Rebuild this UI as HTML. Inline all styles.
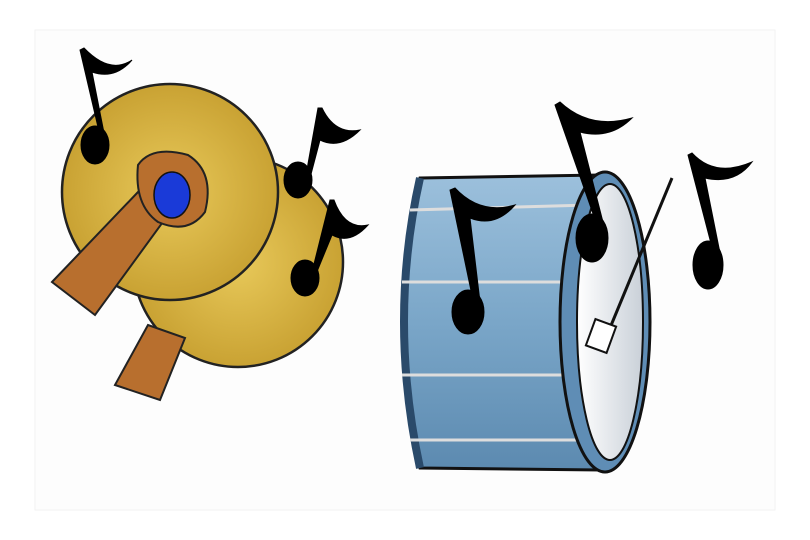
<!DOCTYPE html>
<html><head><meta charset="utf-8"><style>
html,body{margin:0;padding:0;background:#fff;}
svg{display:block;}
</style></head><body>
<svg width="810" height="540" viewBox="0 0 810 540" xmlns="http://www.w3.org/2000/svg">
<defs>
<radialGradient id="gold" cx="0.5" cy="0.5" r="0.5">
<stop offset="0" stop-color="#e8c95a"/><stop offset="1" stop-color="#c9a233"/></radialGradient>
<linearGradient id="drum" x1="0" y1="0" x2="0" y2="1">
<stop offset="0" stop-color="#9cc0dc"/><stop offset="0.5" stop-color="#7aa6c8"/><stop offset="1" stop-color="#5c8ab0"/></linearGradient>
<linearGradient id="head" x1="0" y1="0" x2="1" y2="0">
<stop offset="0" stop-color="#ffffff"/><stop offset="1" stop-color="#c9d0d8"/></linearGradient>
</defs>
<rect x="35" y="30" width="740" height="480" fill="#fdfdfd" stroke="#f2f2f2"/>

<g>
<circle cx="238" cy="262" r="105" fill="url(#gold)" stroke="#222" stroke-width="2.5"/>
<path d="M115 385 L148 325 L185 338 L160 400 Z" fill="#b86f2e" stroke="#222" stroke-width="2"/>
<circle cx="170" cy="192" r="108" fill="url(#gold)" stroke="#222" stroke-width="2.5"/>
<path d="M52 282 L138 192 L168 215 L95 315 Z" fill="#b86f2e" stroke="#222" stroke-width="2"/>
<path d="M138 165 Q152 145 188 155 Q215 172 205 212 Q188 235 158 222 Q134 205 138 165 Z" fill="#b86f2e" stroke="#222" stroke-width="2"/>
<ellipse cx="172" cy="195" rx="18" ry="23" fill="#1a3ad8" stroke="#111" stroke-width="1.5"/>
</g>

<g>
<path d="M420 178 L600 175 L600 470 L420 468 Q385 320 420 178 Z" fill="url(#drum)" stroke="#111" stroke-width="3"/>
<path d="M420 178 Q388 320 420 468" fill="none" stroke="#2a4a6a" stroke-width="8"/>
<g stroke="#ddd" stroke-width="3">
<line x1="410" y1="210" x2="590" y2="205"/>
<line x1="402" y1="282" x2="585" y2="282"/>
<line x1="402" y1="375" x2="585" y2="375"/>
<line x1="410" y1="440" x2="590" y2="440"/>
</g>
<ellipse cx="605" cy="322" rx="45" ry="150" fill="#5f8db5" stroke="#111" stroke-width="3"/>
<ellipse cx="610" cy="322" rx="33" ry="138" fill="url(#head)" stroke="#111" stroke-width="2"/>
<line x1="605" y1="340" x2="672" y2="178" stroke="#111" stroke-width="3"/>
<rect x="590" y="322" width="22" height="28" fill="#fff" stroke="#111" stroke-width="2" transform="rotate(20 601 336)"/>
</g>

<g fill="#000" stroke="#000">
<g><ellipse cx="95" cy="145" rx="14" ry="19"/><path d="M101 140 L80 50 L84 48 Q110 75 132 60 Q115 80 92 72 L105 138Z"/></g>
<g><ellipse cx="298" cy="180" rx="14" ry="18"/><path d="M306 175 L318 108 L322 108 Q335 135 360 130 Q340 150 320 140 L310 178Z"/></g>
<g><ellipse cx="305" cy="278" rx="14" ry="18"/><path d="M312 272 L330 200 L334 200 Q345 230 368 225 Q350 245 332 235 L316 274Z"/></g>
<g><ellipse cx="468" cy="312" rx="16" ry="22"/><path d="M474 305 L450 190 L455 188 Q480 215 515 205 Q495 228 470 218 L480 302Z"/></g>
<g><ellipse cx="592" cy="238" rx="16" ry="24"/><path d="M598 228 L555 105 L560 102 Q590 130 632 118 Q610 140 580 132 L604 226Z"/></g>
<g><ellipse cx="708" cy="265" rx="15" ry="24"/><path d="M714 255 L688 155 L692 153 Q715 178 752 162 Q735 185 705 178 L720 253Z"/></g>
</g>
</svg>
</body></html>
